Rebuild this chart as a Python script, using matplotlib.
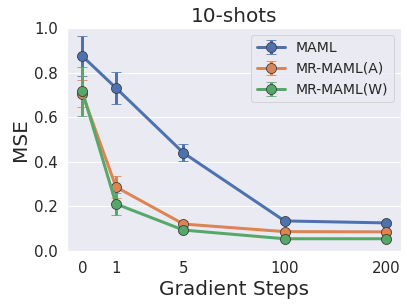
import numpy as np
import matplotlib
matplotlib.use("Agg")
import matplotlib.pyplot as plt
import seaborn as sns

steps = ["0", "1", "5", "100", "200"]
positions = [0, 1, 3, 6, 9]

maml = [0.874, 0.731, 0.440, 0.135, 0.126]
maml_err = [0.09, 0.07, 0.038, 0.01, 0.008]
mr_maml_a = [0.705, 0.287, 0.121, 0.087, 0.086]
mr_maml_a_err = [0.06, 0.05, 0.015, 0.008, 0.008]
mr_maml_w = [0.717, 0.211, 0.094, 0.055, 0.055]
mr_maml_w_err = [0.11, 0.05, 0.01, 0.006, 0.006]

sns.set_theme(style="darkgrid")
colors = sns.color_palette("deep")

DPI = 72
fig, ax = plt.subplots(figsize=(407 / DPI, 308 / DPI), dpi=DPI)

series = [
    ("MAML", maml, maml_err, colors[0]),
    ("MR-MAML(A)", mr_maml_a, mr_maml_a_err, colors[1]),
    ("MR-MAML(W)", mr_maml_w, mr_maml_w_err, colors[2]),
]
for label, vals, errs, c in series:
    ax.errorbar(positions, vals, yerr=errs, label=label, color=c,
                marker="o", markersize=10, markeredgecolor="#3a3a3a",
                markeredgewidth=0.8, linewidth=3, elinewidth=3,
                capsize=5, capthick=1, ecolor=c)

ax.set_ylim(0, 1.0)
ax.set_yticks(np.arange(0, 1.01, 0.2))
ax.set_xticks(positions)
ax.set_xticklabels(steps)
ax.xaxis.grid(False)
ax.tick_params(labelsize=15)
ax.set_xlabel("Gradient Steps", fontsize=20)
ax.set_ylabel("MSE", fontsize=20)
ax.set_title("10-shots", fontsize=20)
ax.legend(fontsize=14, loc="upper right")

plt.subplots_adjust(left=0.165, right=0.985, bottom=0.185, top=0.909)
fig.savefig("out.png", dpi=DPI)
